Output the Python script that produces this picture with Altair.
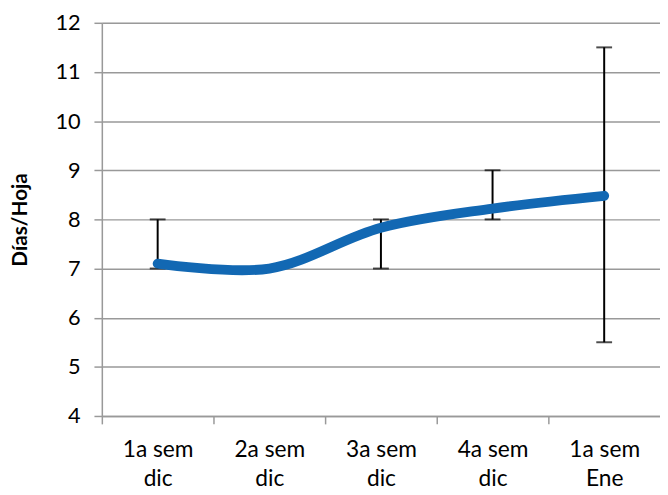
import altair as alt
import pandas as pd

categories = ["1a sem|dic", "2a sem|dic", "3a sem|dic", "4a sem|dic", "1a sem|Ene"]
values = [7.1, 7.0, 7.83, 8.22, 8.48]
err_lo = [7.0, None, 7.0, 8.0, 5.5]
err_hi = [8.0, None, 8.0, 9.0, 11.5]

df = pd.DataFrame({"cat": categories, "val": values, "lo": err_lo, "hi": err_hi})
err = df.dropna()

W, H = 565, 398
bw = W / len(categories)
FONT = "Lato"

x = alt.X("cat:N", sort=categories, title=None,
          scale=alt.Scale(paddingInner=0, paddingOuter=0),
          axis=alt.Axis(labelExpr="split(datum.label, '|')", labelAngle=0,
                        tickOffset=-bw / 2, labelOffset=bw / 2,
                        labelFontSize=23, labelFont=FONT, labelColor="#000",
                        labelPadding=15, labelLineHeight=29,
                        tickColor="#999", tickSize=8, tickWidth=1.5,
                        domainColor="#999", domainWidth=1.5, grid=False,
                        labelBaseline="top"))
y = alt.Y("val:Q", title="Días/Hoja",
          scale=alt.Scale(domain=[4, 12], nice=False, zero=False),
          axis=alt.Axis(values=list(range(4, 13)), labelFontSize=22, labelFont=FONT,
                        labelColor="#000", labelPadding=14,
                        tickColor="#999", tickSize=8, tickWidth=1.5,
                        domainColor="#999", domainWidth=1.5,
                        gridColor="#999", gridWidth=1.5,
                        titleFont=FONT, titleFontSize=21, titleFontWeight="bold",
                        titleColor="#000", titlePadding=25))

base = alt.Chart(err)
rules = base.mark_rule(color="#000", strokeWidth=2).encode(
    x=alt.X("cat:N", sort=categories), y="lo:Q", y2="hi:Q")
cap_lo = base.mark_tick(color="#000", size=16, thickness=2, orient="horizontal").encode(
    x=alt.X("cat:N", sort=categories), y="lo:Q")
cap_hi = base.mark_tick(color="#000", size=16, thickness=2, orient="horizontal").encode(
    x=alt.X("cat:N", sort=categories), y="hi:Q")

line = alt.Chart(df).mark_line(color="#1268B3", strokeWidth=10, interpolate="catmull-rom",
                               strokeCap="round").encode(x=x, y=y)

chart = alt.layer(line.mark_line(opacity=0), rules, cap_lo, cap_hi, line).properties(
    width=W, height=H,
    autosize=alt.AutoSizeParams(type="none"),
    padding={"left": 95, "top": 12, "right": 0, "bottom": 76},
).configure_view(stroke=None).configure(font=FONT)

chart.save("out.html", embed_options={"renderer": "svg", "actions": False})
